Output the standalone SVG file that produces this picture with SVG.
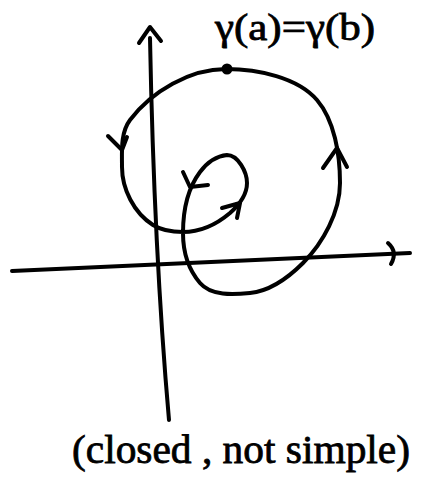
<svg xmlns="http://www.w3.org/2000/svg" width="425" height="497" viewBox="0 0 425 497">
<style>
.ln{fill:none;stroke:#000;stroke-width:4;stroke-linecap:round;stroke-linejoin:round}
.tx{font-family:"Liberation Serif","DejaVu Serif",serif;fill:#000;stroke:#000;stroke-width:0.8}
</style>
<rect width="425" height="497" fill="#fff"/>
<g id="axes">
<path class="ln" d="M150,38 Q154,250 169,420"/>
<path class="ln" d="M139,43 L150,27 L161,41"/>
<path class="ln" d="M12,271 L410,253"/>
<path class="ln" d="M388,243 Q398,252 391,264"/>
</g>
<g id="curve">
<path class="ln" d="M226,69 C190,69 151.6,91.2 130,120 C120.4,132.8 122,151 122,167 C122,189 134,213 153,225 C161.5,230.3 173,232 183,232 C200,232 217,224 230,213 C239,205 247,195 247,183 C247,172 238,155 227,155 C216,156 206.6,163.2 200,172 C187.4,188.8 183,212 183,233 C183,251 188,269 200,283 C211,296 233,294.7 250,293 C270,291 289,277 303,263 C323,243 340,212 340,183 C340,154 334.4,120.3 317,100 C297.8,77.6 258,69 226,69 Z"/>
<circle cx="227" cy="69" r="5.5" fill="#000"/>
</g>
<g id="arrows">
<path class="ln" d="M108,136 L122,150 L127,137"/>
<path class="ln" d="M222,208 L240,203 L237,218"/>
<path class="ln" d="M183,172 L190,187 L208,185"/>
<path class="ln" d="M323,168 L337,148 L347,167"/>
</g>
<g id="labels">
<text class="tx" x="215" y="40" font-size="38" textLength="160" lengthAdjust="spacingAndGlyphs">γ(a)=γ(b)</text>
<text class="tx" x="72" y="463" font-size="41" textLength="338" lengthAdjust="spacingAndGlyphs">(closed , not simple)</text>
</g>
</svg>
